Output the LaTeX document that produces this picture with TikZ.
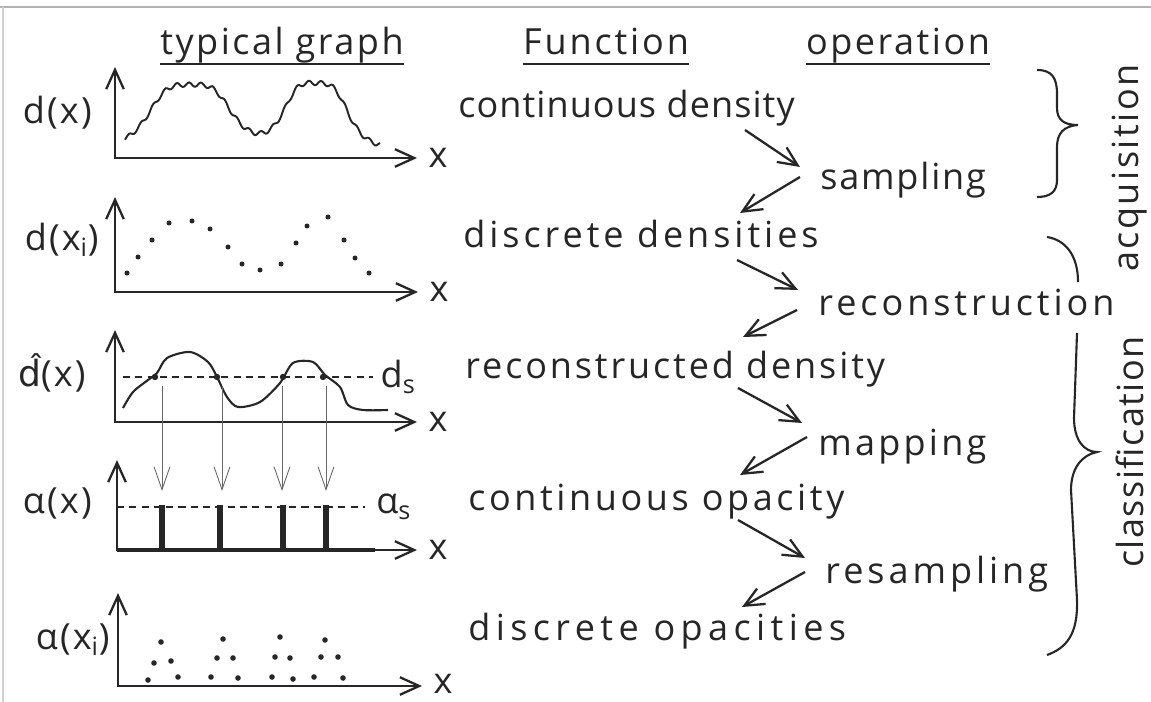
\documentclass[tikz,border=0pt]{standalone}
\usepackage{fontspec}
\setmainfont{Open Sans}
\newfontfamily\accentfont{DejaVu Sans}
\usepackage{xcolor}
\usepackage{tikz}
\usetikzlibrary{arrows.meta}

\definecolor{ink}{HTML}{262626}
\tikzset{
    hand/.style={font=\fontsize{20.5}{24}\selectfont\addfontfeature{LetterSpace=#1},
        text=ink, inner sep=0pt},
    hand/.default=6,
    glabel/.style={hand, anchor=east},
    uline/.style={line width=1.4pt, draw=ink},
    flow/.style={->, line width=1.3pt, draw=ink},
    axis/.style={<->, line width=1.3pt, draw=ink},
    thin arrow/.style={->, line width=0.5pt, draw=ink!70,
        >={Straight Barb[length=13pt, width=9pt]}},
    level/.style={line width=0.8pt, draw=ink, dash pattern=on 4pt off 3pt},
    brace/.style={line width=1.2pt, draw=ink}
}

\begin{document}
\begin{tikzpicture}[x=0.02cm, y=-0.02cm, >={Straight Barb[length=11pt, width=10pt]}]
    \useasboundingbox (0,0) rectangle (1151,702);
    % frame
    \draw[gray!60, line width=1pt] (0,7) -- (1151,7);
    \draw[gray!35, line width=1pt] (3,7) -- (3,702);

    % headers
    \node[hand=7, anchor=base] (hdgraph) at (282,55) {typical graph};
    \node[hand=8, anchor=base] (hdfunc) at (606,55) {Function};
    \node[hand=7, anchor=base] (hdop) at (898,55) {operation};
    \draw[uline] ([shift={(0,9)}]hdgraph.base west) -- ([shift={(0,9)}]hdgraph.base east);
    \draw[uline] ([shift={(0,9)}]hdfunc.base west) -- ([shift={(0,9)}]hdfunc.base east);
    \draw[uline] ([shift={(0,9)}]hdop.base west) -- ([shift={(0,9)}]hdop.base east);

    % functions
    \node[hand=3, anchor=base west] (contdens) at (458,118) {continuous density};
    \node[hand=11, anchor=base west] (discdens) at (463,248) {discrete densities};
    \node[hand=8, anchor=base west] (recdens) at (465,378) {reconstructed density};
    \node[hand=10, anchor=base west] (contopac) at (468,510) {continuous opacity};
    \node[hand=15, anchor=base west] (discopac) at (468,640) {discrete opacities};

    % operations
    \node[hand=5, anchor=base west] (sampling) at (820,190) {sampling};
    \node[hand=11, anchor=base west] (recon) at (818,315) {reconstruction};
    \node[hand=9, anchor=base west] (mapping) at (818,455) {mapping};
    \node[hand=11, anchor=base west] (resampling) at (825,583) {resampling};

    % zig-zag arrows
    \draw[flow] ([shift={(287,12)}]contdens.base west) -- ([shift={(-20,-23)}]sampling.base west);
    \draw[flow] ([shift={(-20,-13)}]sampling.base west) -- ([shift={(277,-35)}]discdens.base west);
    \draw[flow] ([shift={(274,12)}]discdens.base west) -- ([shift={(-20,-25)}]recon.base west);
    \draw[flow] ([shift={(-21,-5)}]recon.base west) -- ([shift={(278,-41)}]recdens.base west);
    \draw[flow] ([shift={(273,10)}]recdens.base west) -- ([shift={(-16,-32)}]mapping.base west);
    \draw[flow] ([shift={(-11,-18)}]mapping.base west) -- ([shift={(272,-35)}]contopac.base west);
    \draw[flow] ([shift={(270,10)}]contopac.base west) -- ([shift={(-20,-25)}]resampling.base west);
    \draw[flow] ([shift={(-20,-11)}]resampling.base west) -- ([shift={(274,-33)}]discopac.base west);

    % braces
    \draw[brace] (1037,70) .. controls (1052,70) and (1057,78) .. (1057,94) -- (1057,108)
        .. controls (1057,120) and (1064,125) .. (1078,125)
        .. controls (1064,126) and (1057,133) .. (1057,147) -- (1057,180)
        .. controls (1057,192) and (1050,197) .. (1037,197);
    \draw[brace] (1047,237) .. controls (1066,240) and (1078,256) .. (1078,282);
    \draw[brace] (1077,333) -- (1074,418) .. controls (1074,440) and (1084,452) .. (1097,452)
        .. controls (1082,455) and (1071,468) .. (1071,490) -- (1077,600)
        .. controls (1078,635) and (1066,648) .. (1047,655);
    \node[hand=7, rotate=90] (acq) at (1130,168) {acquisition};
    \node[hand=4, rotate=90] (classif) at (1130,452) {classification};

    % graph 1: continuous density
    \node[glabel] (lbl1) at (92,113) {d(x)};
    \draw[axis] (115,67) -- (115,158) -- (417,158) node[hand, right=6pt] (x1) {x};
    \draw[line width=1.1pt, draw=ink] plot[domain=125:380, samples=200, smooth]
        (\x, {150 - 65/(1+((\x-190)/44)^4) - 66/(1+((\x-316)/34)^4) + 2.2*sin(30*\x)});

    % graph 2: discrete densities
    \node[glabel] (lbl2) at (99,240) {d(x\textsubscript{i})};
    \draw[axis] (115,197) -- (115,292) -- (418,292) node[hand, right=6pt] (x2) {x};
    \fill[ink] (127,273) circle (2.5) (138,257) circle (2.5) (152,240) circle (2.5)
        (169,223) circle (2.5) (192,221) circle (2.5) (210,229) circle (2.5)
        (228,247) circle (2.5) (242,264) circle (2.5) (260,270) circle (2.5)
        (281,264) circle (2.5) (296,243) circle (2.5) (307,226) circle (2.5)
        (328,217) circle (2.5) (344,240) circle (2.5) (355,258) circle (2.5)
        (369,273) circle (2.5);

    % graph 3: reconstructed density
    \node[glabel] (lbl3) at (86,373) {{\accentfont\^{d}}(x)};
    \draw[axis] (115,330) -- (115,422) -- (417,422) node[hand, right=6pt] (x3) {x};
    \draw[level] (123,377) -- (373,377) node[hand, right=4pt] (ds) {d\textsubscript{s}};
    \draw[line width=1.2pt, draw=ink] plot[smooth, tension=0.5] coordinates {(123,408)
        (133,392) (148,380) (157,373) (167,358) (190,352) (208,362) (217,377) (227,397)
        (238,407) (260,402) (280,383) (293,363) (313,362) (325,375) (340,387) (348,405)
        (363,410) (388,410)};
    \fill[ink] (155,377) circle (3.2) (217,377) circle (3.2) (283,377) circle (3.2)
        (323,377) circle (3.2);

    % threshold to opacity
    \draw[thin arrow] (162,386) -- (162,491);
    \draw[thin arrow] (222,386) -- (222,491);
    \draw[thin arrow] (282,386) -- (282,491);
    \draw[thin arrow] (326,386) -- (326,491);

    % graph 4: continuous opacity
    \node[glabel] (lbl4) at (92,503) {α(x)};
    \draw[axis] (117,460) -- (117,550) -- (417,550) node[hand, right=6pt] (x4) {x};
    \draw[line width=2.6pt, draw=ink] (117,550) -- (375,550);
    \draw[level] (117,507) -- (365,507) node[hand, right=6pt] (as) {α\textsubscript{s}};
    \draw[line width=3pt, draw=ink] (162,505) -- (162,550) (220,505) -- (220,550)
        (283,505) -- (283,550) (326,505) -- (326,550);

    % graph 5: discrete opacities
    \node[glabel] (lbl5) at (110,640) {α(x\textsubscript{i})};
    \draw[axis] (118,593) -- (118,686) -- (422,686) node[hand, right=6pt, yshift=1pt] (x5) {x};
    \fill[ink] (148,680) circle (2.8) (154,663) circle (2.8) (161,642) circle (2.8)
        (171,661) circle (2.8) (178,677) circle (2.8)
        (211,677) circle (2.8) (217,658) circle (2.8) (223,639) circle (2.8)
        (233,658) circle (2.8) (238,678) circle (2.8)
        (272,677) circle (2.8) (275,657) circle (2.8) (280,637) circle (2.8)
        (290,658) circle (2.8) (293,679) circle (2.8)
        (314,677) circle (2.8) (321,657) circle (2.8) (325,640) circle (2.8)
        (338,657) circle (2.8) (343,678) circle (2.8);
\end{tikzpicture}
\end{document}
